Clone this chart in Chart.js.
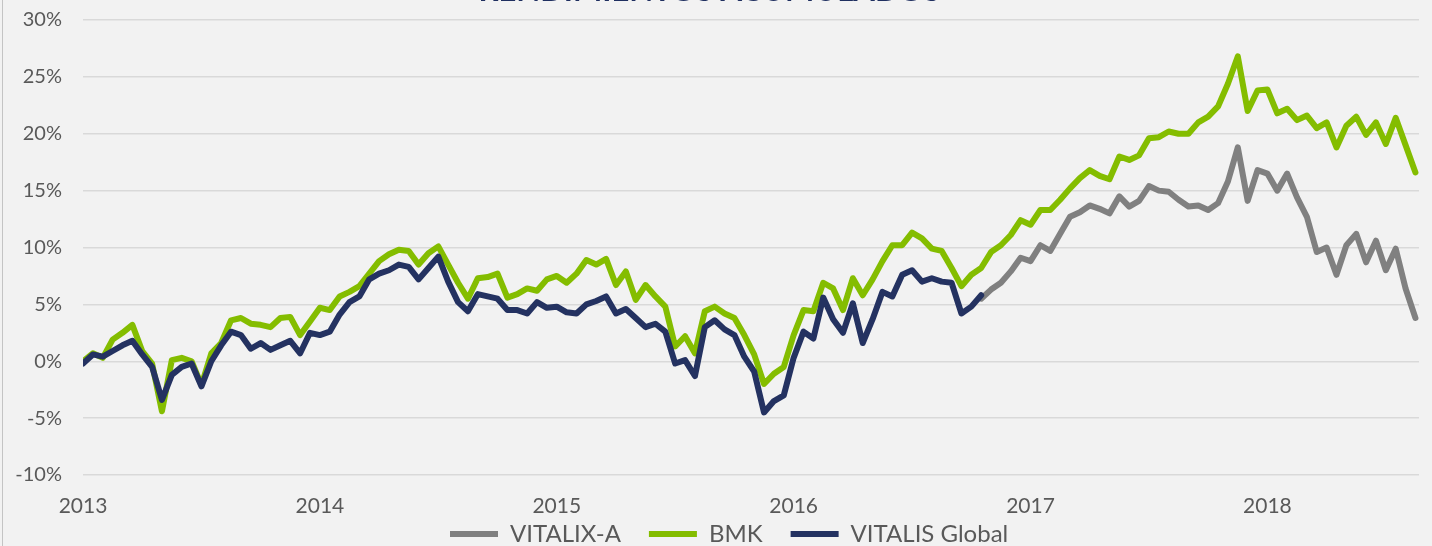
<!DOCTYPE html>
<html>
<head>
<meta charset="utf-8">
<script src="https://cdn.jsdelivr.net/npm/chart.js@4"></script>
<style>
  body { margin: 0; background: #f2f2f2; overflow: hidden; }
  #marco { position: absolute; left: 0; top: -40px; width: 1432px; height: 622px; }
  #borde { position: absolute; left: 2px; top: 0; width: 1px; height: 546px; background: #c4c4c4; }
</style>
</head>
<body>
<div id="marco"><canvas id="grafico"></canvas></div>
<div id="borde"></div>
<script>
// fechas en años decimales, una cada quincena desde ene-2013
const fechas = [];
for (let i = 0; i < 136; i++) fechas.push(2013 + i / 24);

// rentabilidad acumulada (%)
const bmk = [
    0.0, 0.7, 0.3, 1.9, 2.5, 3.2, 0.9, -0.2, -4.4, 0.1,
    0.3, 0.0, -2.1, 0.7, 1.6, 3.6, 3.8, 3.3, 3.2, 3.0,
    3.8, 3.9, 2.3, 3.5, 4.7, 4.5, 5.7, 6.1, 6.6, 7.7,
    8.8, 9.4, 9.8, 9.7, 8.5, 9.5, 10.1, 8.5, 6.9, 5.5,
    7.3, 7.4, 7.7, 5.6, 5.9, 6.4, 6.2, 7.2, 7.5, 6.9,
    7.7, 8.9, 8.5, 9.0, 6.7, 7.9, 5.4, 6.7, 5.7, 4.8,
    1.3, 2.2, 0.7, 4.4, 4.8, 4.2, 3.8, 2.3, 0.6, -2.0,
    -1.1, -0.5, 2.3, 4.5, 4.4, 6.9, 6.4, 4.5, 7.3, 5.8,
    7.2, 8.8, 10.2, 10.2, 11.3, 10.8, 9.9, 9.7, 8.2, 6.6,
    7.6, 8.2, 9.6, 10.2, 11.1, 12.4, 12.0, 13.3, 13.3, 14.2,
    15.2, 16.1, 16.8, 16.3, 16.0, 18.0, 17.7, 18.1, 19.6, 19.7,
    20.2, 20.0, 20.0, 21.0, 21.5, 22.4, 24.4, 26.8, 22.0, 23.8,
    23.9, 21.8, 22.2, 21.2, 21.6, 20.5, 21.0, 18.8, 20.7, 21.5,
    19.9, 21.0, 19.1, 21.4, 19.0, 16.6
];

const vitalisGlobal = [
    -0.2, 0.6, 0.4, 0.9, 1.4, 1.8, 0.6, -0.5, -3.4, -1.2,
    -0.5, -0.2, -2.2, 0.0, 1.4, 2.6, 2.3, 1.1, 1.6, 1.0,
    1.4, 1.8, 0.7, 2.5, 2.3, 2.6, 4.1, 5.2, 5.7, 7.2,
    7.7, 8.0, 8.5, 8.3, 7.2, 8.2, 9.2, 7.0, 5.2, 4.4,
    5.9, 5.7, 5.5, 4.5, 4.5, 4.2, 5.2, 4.7, 4.8, 4.3,
    4.2, 5.0, 5.3, 5.7, 4.2, 4.6, 3.8, 3.0, 3.3, 2.6,
    -0.2, 0.1, -1.3, 3.0, 3.6, 2.8, 2.3, 0.4, -0.9, -4.5,
    -3.5, -3.0, 0.3, 2.6, 2.0, 5.6, 3.7, 2.5, 5.1, 1.6,
    3.7, 6.1, 5.7, 7.6, 8.0, 7.0, 7.3, 7.0, 6.9, 4.2,
    4.8, 5.8
];

// VITALIX-A arranca en la quincena 91 (oct-2016)
const inicioVitalix = 91;
const vitalixA = [
    5.5, 6.3, 6.9, 7.9, 9.1, 8.8, 10.2, 9.7, 11.2, 12.7,
    13.1, 13.7, 13.4, 13.0, 14.5, 13.6, 14.1, 15.4, 15.0, 14.9,
    14.2, 13.6, 13.7, 13.3, 13.9, 15.8, 18.8, 14.1, 16.8, 16.5,
    15.0, 16.5, 14.4, 12.7, 9.6, 10.0, 7.6, 10.2, 11.2, 8.7,
    10.6, 8.0, 9.9, 6.4, 3.8
];

function rellenar(valores, inicio) {
    const serie = [];
    for (let i = 0; i < fechas.length; i++) {
        const j = i - inicio;
        serie.push(j >= 0 && j < valores.length ? valores[j] : null);
    }
    return serie;
}

const fuente = 'Lato, "Liberation Sans", sans-serif';

function linea(nombre, datos, color, orden) {
    return {
        label: nombre,
        data: datos,
        borderColor: color,
        backgroundColor: color,
        borderWidth: 6,
        borderJoinStyle: 'round',
        borderCapStyle: 'round',
        pointRadius: 0,
        tension: 0,
        order: orden
    };
}

// coloca la leyenda justo bajo los años, empezando en x = 450
const moverLeyenda = {
    id: 'moverLeyenda',
    afterLayout(chart) {
        const ley = chart.legend;
        const pad = ley.options.labels.padding;
        const alto = ley.height;
        ley.left = 450 - pad;
        ley.right = chart.width;
        ley.top = 534;
        ley.bottom = ley.top + alto;
    }
};

const ctx = document.getElementById('grafico').getContext('2d');

const chart = new Chart(ctx, {
    type: 'line',
    data: {
        labels: fechas,
        datasets: [
            linea('VITALIX-A', rellenar(vitalixA, inicioVitalix), '#808080', 2),
            linea('BMK', rellenar(bmk, 0), '#84bd00', 1),
            linea('VITALIS Global', rellenar(vitalisGlobal, 0), '#243261', 0)
        ]
    },
    options: {
        responsive: true,
        maintainAspectRatio: false,
        animation: false,
        layout: { padding: { left: 0, right: 13, top: 0, bottom: 0 } },
        plugins: {
            title: {
                display: true,
                text: 'RENDIMIENTOS ACUMULADOS',
                color: '#1f2f60',
                font: { family: fuente, size: 31, weight: 'bold' },
                padding: { top: 12, bottom: 10.8 }
            },
            legend: {
                position: 'bottom',
                align: 'start',
                labels: {
                    usePointStyle: true,
                    pointStyle: 'line',
                    pointStyleWidth: 48,
                    padding: 28,
                    color: '#595959',
                    font: { family: fuente, size: 24 },
                    sort: (a, b) => a.datasetIndex - b.datasetIndex
                }
            },
            tooltip: { enabled: false }
        },
        scales: {
            x: {
                type: 'linear',
                min: 2013,
                max: 2018.64,
                afterFit: (s) => { s.height = 45; },
                grid: { display: false },
                border: { display: false },
                ticks: {
                    stepSize: 1,
                    includeBounds: false,
                    maxRotation: 0,
                    autoSkip: false,
                    padding: 11,
                    color: '#595959',
                    font: { family: fuente, size: 21 },
                    callback: (v) => Number.isInteger(v) ? String(v) : ''
                }
            },
            y: {
                min: -10,
                max: 30,
                afterFit: (s) => { s.width = 83; },
                grid: { color: '#d9d9d9', lineWidth: 1.5, drawTicks: false },
                border: { display: false },
                ticks: {
                    stepSize: 5,
                    padding: 21,
                    color: '#595959',
                    font: { family: fuente, size: 20 },
                    callback: (v) => v + '%'
                }
            }
        }
    },
    plugins: [moverLeyenda]
});
</script>
</body>
</html>
